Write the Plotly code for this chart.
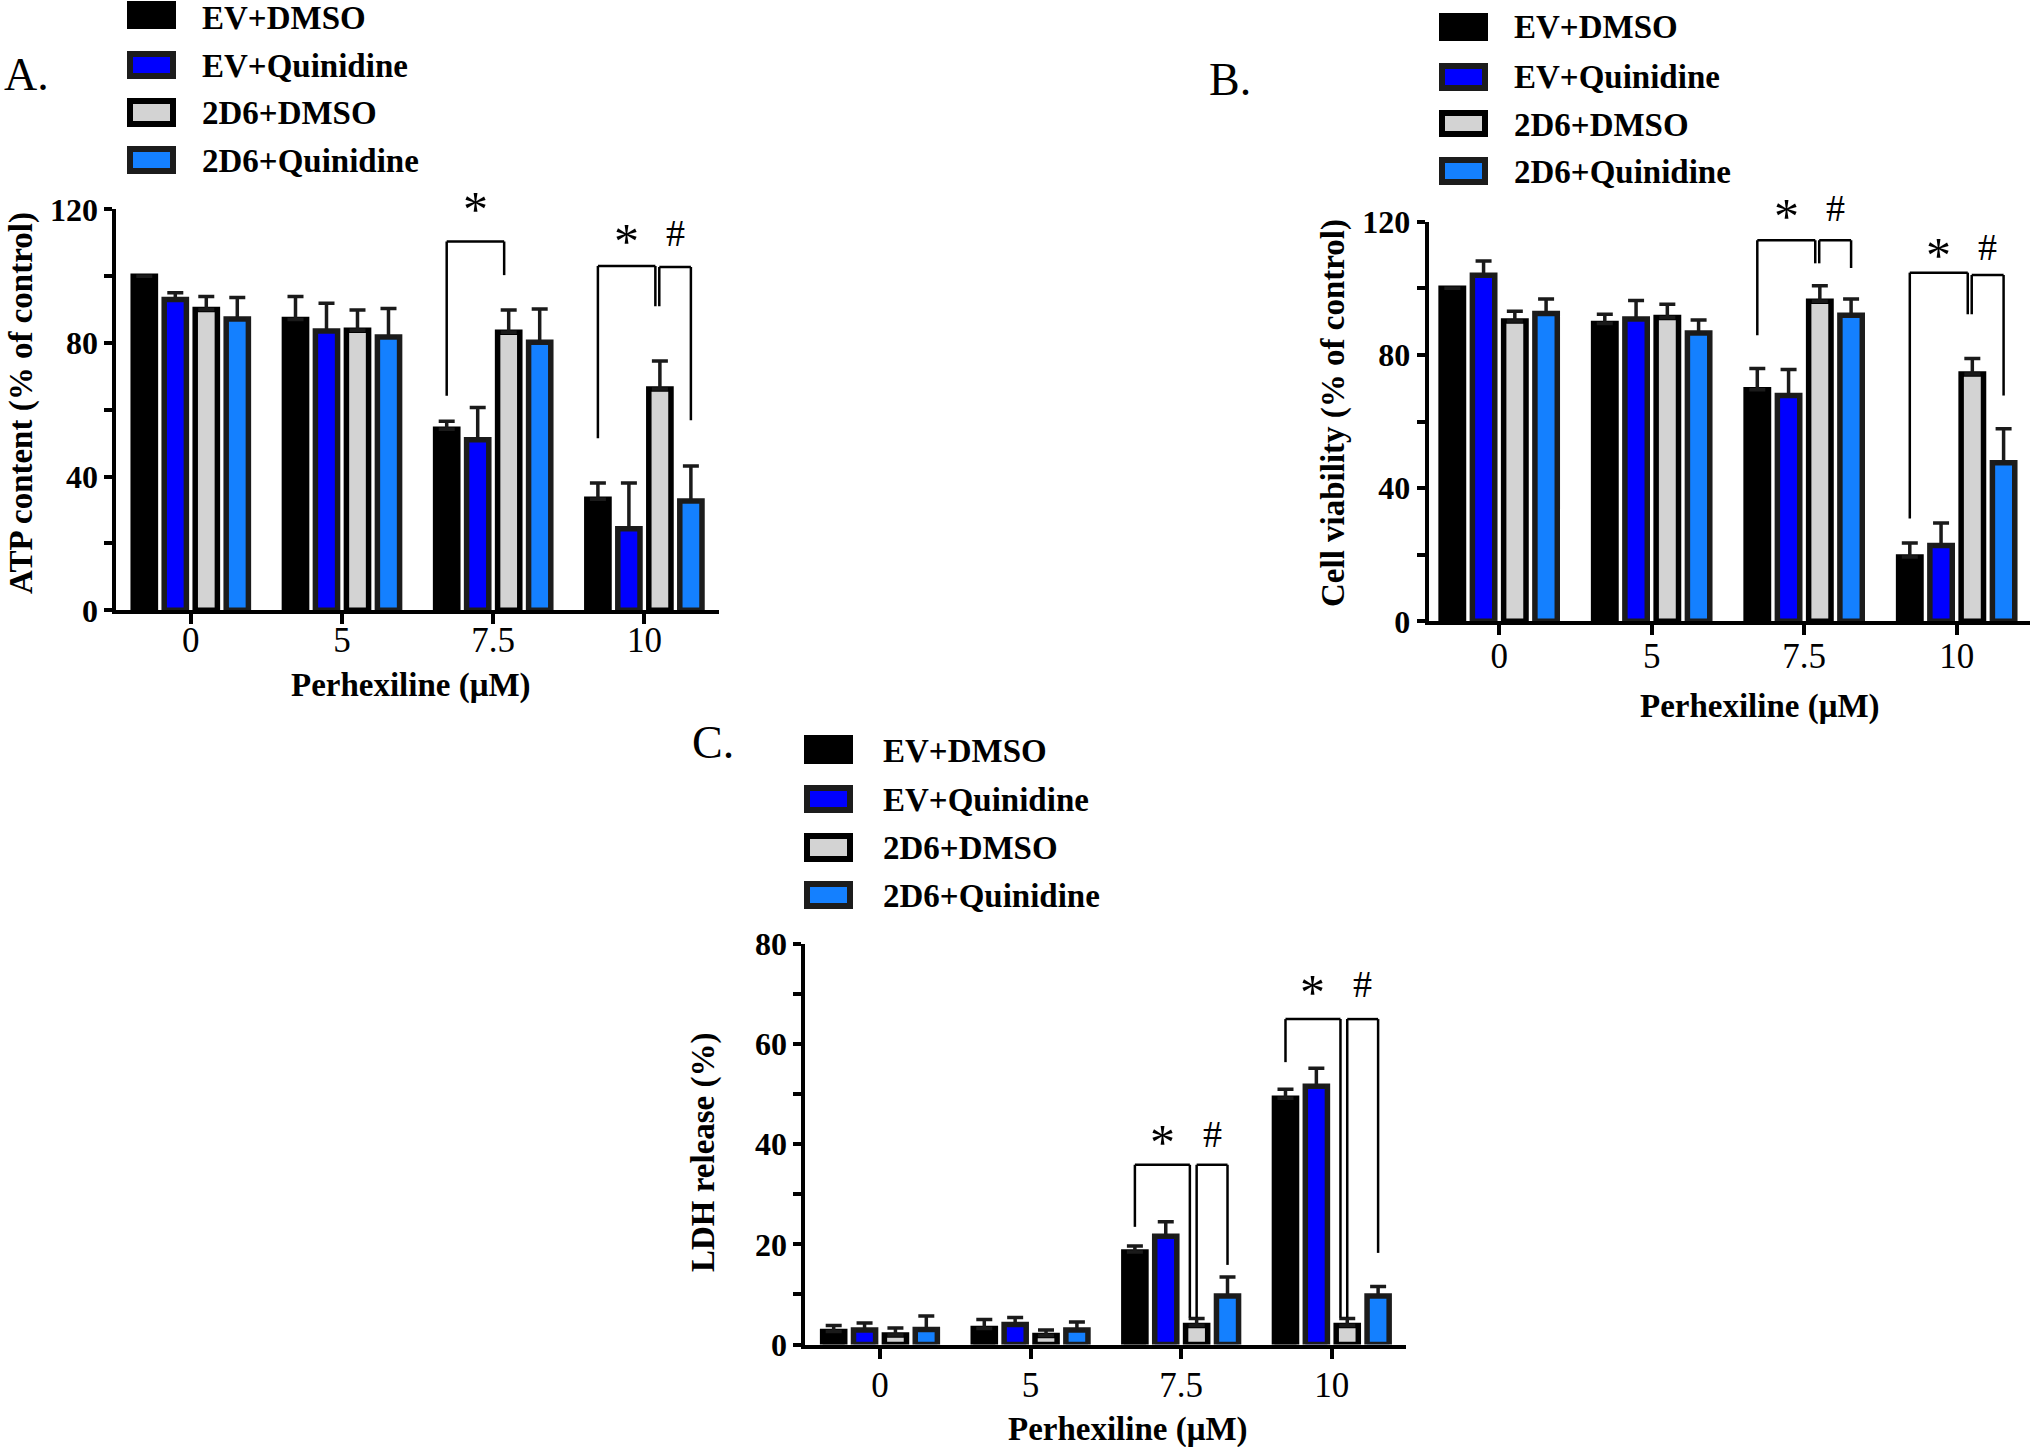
import plotly.graph_objects as go

W, H = 2032, 1447
SERIF = "Liberation Serif, Times New Roman, serif"

# ---------------- data ----------------
doses = ["0", "5", "7.5", "10"]
groups = ["EV+DMSO", "EV+Quinidine", "2D6+DMSO", "2D6+Quinidine"]

# Panel A: ATP content (% of control)
atp_ev_dmso = [100.0, 87.0, 54.2, 33.2]
atp_ev_quin = [93.0, 83.6, 51.0, 24.4]
atp_2d6_dmso = [90.0, 83.8, 83.2, 66.2]
atp_2d6_quin = [87.2, 81.8, 80.2, 32.7]
atp_ev_dmso_sd = [0.0, 6.9, 2.4, 4.9]
atp_ev_quin_sd = [2.0, 8.3, 9.7, 13.7]
atp_2d6_dmso_sd = [3.9, 6.1, 6.7, 8.4]
atp_2d6_quin_sd = [6.4, 8.5, 10.0, 10.5]

# Panel B: Cell viability (% of control)
via_ev_dmso = [100.0, 89.4, 69.5, 19.3]
via_ev_quin = [103.9, 90.8, 67.8, 22.8]
via_2d6_dmso = [90.2, 91.2, 96.1, 74.3]
via_2d6_quin = [92.4, 86.6, 91.9, 47.6]
via_ev_dmso_sd = [0.0, 2.8, 6.4, 4.2]
via_ev_quin_sd = [4.3, 5.5, 7.8, 6.7]
via_2d6_dmso_sd = [2.9, 4.0, 4.7, 4.6]
via_2d6_quin_sd = [4.4, 3.9, 4.9, 10.2]

# Panel C: LDH release (%)
ldh_ev_dmso = [2.6, 3.2, 18.5, 49.2]
ldh_ev_quin = [2.9, 4.0, 21.6, 51.6]
ldh_2d6_dmso = [1.9, 1.8, 3.8, 3.8]
ldh_2d6_quin = [3.0, 2.9, 9.7, 9.7]
ldh_ev_dmso_sd = [1.2, 1.8, 1.2, 1.8]
ldh_ev_quin_sd = [1.4, 1.4, 2.9, 3.6]
ldh_2d6_dmso_sd = [1.4, 1.1, 1.4, 1.4]
ldh_2d6_quin_sd = [2.7, 1.6, 3.8, 1.9]

# y tick values / labels
atp_ticks = [0, 20, 40, 60, 80, 100, 120]
atp_ticktext = ["0", "", "40", "", "80", "", "120"]
via_ticks = [0, 20, 40, 60, 80, 100, 120]
via_ticktext = ["0", "", "40", "", "80", "", "120"]
ldh_ticks = [0, 10, 20, 30, 40, 50, 60, 70, 80]
ldh_ticktext = ["0", "", "20", "", "40", "", "60", "", "80"]

# significance brackets: (dose index, bar from, bar to, top, left leg bottom, right leg bottom)
sig_brackets_A = [(2, 0, 2, 110.4, 64.2, 100.3), (3, 0, 2, 103.0, 51.5, 91.0), (3, 2, 3, 102.7, 91.0, 56.9)]
sig_labels_A = ["*", "*", "#"]
sig_label_y_A = [122.4, 113.0, 113.0]
sig_brackets_B = [(2, 0, 2, 114.4, 85.9, 107.5), (2, 2, 3, 114.4, 107.5, 106.1),
                  (3, 0, 2, 104.7, 30.9, 92.2), (3, 2, 3, 104.0, 92.2, 67.8)]
sig_labels_B = ["*", "#", "*", "#"]
sig_label_y_B = [124.2, 124.2, 112.3, 112.3]
sig_brackets_C = [(2, 0, 2, 35.9, 23.5, 5.4), (2, 2, 3, 35.9, 5.4, 15.9),
                  (3, 0, 2, 65.0, 56.4, 5.4), (3, 2, 3, 65.0, 5.4, 18.3)]
sig_labels_C = ["*", "#", "*", "#"]
sig_label_y_C = [42.1, 42.1, 72.1, 72.1]

# ---------------- styles ----------------
fill_colors = ["#000000", "#0000FF", "#D3D3D3", "#1480FF"]
edge_colors = ["#000000", "#1C1C1C", "#000000", "#1C1C1C"]
BARGAP = 0.18
BARGROUPGAP = 0.284
PITCH = (1 - BARGAP) / 4


def px_x(p):
    return p / W


def px_y(p):
    return 1 - p / H


def bar_x(gi, bi, off=0.0):
    return gi - (1 - BARGAP) / 2 + (bi + 0.5) * PITCH + off


panels = [
    dict(name="A", xa="x", ya="y",
         means=[atp_ev_dmso, atp_ev_quin, atp_2d6_dmso, atp_2d6_quin],
         sds=[atp_ev_dmso_sd, atp_ev_quin_sd, atp_2d6_dmso_sd, atp_2d6_quin_sd],
         ymax=120, ticks=atp_ticks, ticktext=atp_ticktext,
         xdom=(116.3, 719.3), ydom=(209.3, 610.3), xrange=[-0.4927, 3.4954],
         brackets=sig_brackets_A, labels=sig_labels_A, label_y=sig_label_y_A,
         split=(-0.03, -0.004), standoff=-14,
         ytitle="ATP content (% of control)", ytitle_pos=(22, 403),
         xtitle_pos=(411, 686), letter_pos=(2, 75),
         leg_x=(127, 176), leg_rows=[(1, 29), (51, 79), (98, 127), (146, 174)],
         leg_text_x=200, leg_text_y=[18.5, 65.5, 113.5, 161.5]),
    dict(name="B", xa="x2", ya="y2",
         means=[via_ev_dmso, via_ev_quin, via_2d6_dmso, via_2d6_quin],
         sds=[via_ev_dmso_sd, via_ev_quin_sd, via_2d6_dmso_sd, via_2d6_quin_sd],
         ymax=120, ticks=via_ticks, ticktext=via_ticktext,
         xdom=(1428.7, 2030), ydom=(221.7, 621.3), xrange=[-0.4623, 3.4807],
         brackets=sig_brackets_B, labels=sig_labels_B, label_y=sig_label_y_B,
         split=(-0.03, -0.004), standoff=-9,
         ytitle="Cell viability (% of control)", ytitle_pos=(1333, 413),
         xtitle_pos=(1760, 706), letter_pos=(1207, 79),
         leg_x=(1439, 1488), leg_rows=[(13, 41), (63, 91), (110, 137), (157, 185)],
         leg_text_x=1512, leg_text_y=[27, 77, 125, 172]),
    dict(name="C", xa="x3", ya="y3",
         means=[ldh_ev_dmso, ldh_ev_quin, ldh_2d6_dmso, ldh_2d6_quin],
         sds=[ldh_ev_dmso_sd, ldh_ev_quin_sd, ldh_2d6_dmso_sd, ldh_2d6_quin_sd],
         ymax=80, ticks=ldh_ticks, ticktext=ldh_ticktext,
         xdom=(805.3, 1406), ydom=(944, 1344.5), xrange=[-0.496, 3.4927],
         brackets=sig_brackets_C, labels=sig_labels_C, label_y=sig_label_y_C,
         split=(-0.045, 0.0), standoff=-4,
         ytitle="LDH release (%)", ytitle_pos=(703, 1152),
         xtitle_pos=(1128, 1429), letter_pos=(690, 743),
         leg_x=(804, 853), leg_rows=[(735, 764), (785, 813), (833, 862), (881, 909)],
         leg_text_x=881, leg_text_y=[751, 800, 848, 896]),
]

fig = go.Figure()
shapes = []
annotations = []
layout_axes = {}

for p in panels:
    for i in range(4):
        fig.add_trace(go.Bar(
            x=doses, y=p["means"][i], name=groups[i],
            xaxis=p["xa"], yaxis=p["ya"], showlegend=False,
            marker=dict(color=fill_colors[i], line=dict(color=edge_colors[i], width=5.5)),
            error_y=dict(type="data", symmetric=False, array=p["sds"][i],
                         arrayminus=[0] * len(doses), color="#1A1A1A", thickness=3.5, width=8),
        ))

    xkey = "xaxis" + p["xa"][1:]
    ykey = "yaxis" + p["ya"][1:]
    layout_axes[xkey] = dict(
        domain=[px_x(p["xdom"][0]), px_x(p["xdom"][1])], anchor=p["ya"],
        type="category", categoryorder="array", categoryarray=doses,
        range=p["xrange"], showline=True, linewidth=4, linecolor="black",
        ticks="outside", ticklen=10, tickwidth=4, tickcolor="black",
        ticklabelstandoff=p["standoff"], automargin=False,
        showgrid=False, zeroline=False, fixedrange=True,
        tickfont=dict(family=SERIF, size=35, color="black"))
    layout_axes[ykey] = dict(
        domain=[px_y(p["ydom"][1]), px_y(p["ydom"][0])], anchor=p["xa"],
        range=[0, p["ymax"]], tickmode="array", tickvals=p["ticks"], ticktext=p["ticktext"],
        showline=True, linewidth=4, linecolor="black", automargin=False,
        ticks="outside", ticklen=8, tickwidth=4, tickcolor="black",
        showgrid=False, zeroline=False, fixedrange=True,
        tickfont=dict(family=SERIF, size=32, color="black", weight="bold"))

    # significance brackets
    for (gi, b0, b1, top, lb, rb), lab, ly in zip(p["brackets"], p["labels"], p["label_y"]):
        off0 = p["split"][1] if b0 == 2 else 0.0
        off1 = p["split"][0] if b1 == 2 else 0.0
        xl = bar_x(gi, b0, off0)
        xr = bar_x(gi, b1, off1)
        for (x0, y0, x1, y1) in [(xl, lb, xl, top), (xl, top, xr, top), (xr, top, xr, rb)]:
            shapes.append(dict(type="line", xref=p["xa"], yref=p["ya"],
                               x0=x0, y0=y0, x1=x1, y1=y1,
                               line=dict(color="black", width=2.5)))
        is_star = lab == "*"
        annotations.append(dict(
            text=lab, xref=p["xa"], yref=p["ya"] + " domain",
            x=(xl + xr) / 2, y=ly / p["ymax"], showarrow=False,
            xanchor="center", yanchor="middle", yshift=-8 if is_star else 0,
            font=dict(family=SERIF, size=50 if is_star else 38, color="black")))

    # axis titles
    annotations.append(dict(
        text=p["ytitle"], xref="paper", yref="paper",
        x=px_x(p["ytitle_pos"][0]), y=px_y(p["ytitle_pos"][1]), textangle=-90,
        showarrow=False, xanchor="center", yanchor="middle",
        font=dict(family=SERIF, size=33, color="black", weight="bold")))
    annotations.append(dict(
        text="Perhexiline (\u03bcM)", xref="paper", yref="paper",
        x=px_x(p["xtitle_pos"][0]), y=px_y(p["xtitle_pos"][1]),
        showarrow=False, xanchor="center", yanchor="middle",
        font=dict(family=SERIF, size=33, color="black", weight="bold")))
    # panel letter
    annotations.append(dict(
        text=p["name"] + ".", xref="paper", yref="paper",
        x=px_x(p["letter_pos"][0]), y=px_y(p["letter_pos"][1]),
        showarrow=False, xanchor="left", yanchor="middle",
        font=dict(family=SERIF, size=46, color="black")))

    # legend
    lx0, lx1 = p["leg_x"]
    for i, (r0, r1) in enumerate(p["leg_rows"]):
        shapes.append(dict(type="rect", xref="paper", yref="paper",
                           x0=px_x(lx0 + 3), x1=px_x(lx1 - 3),
                           y0=px_y(r1 - 3), y1=px_y(r0 + 3),
                           fillcolor=fill_colors[i],
                           line=dict(color=edge_colors[i], width=6)))
        annotations.append(dict(
            text=groups[i], xref="paper", yref="paper",
            x=px_x(p["leg_text_x"]), y=px_y(p["leg_text_y"][i]),
            showarrow=False, xanchor="left", yanchor="middle",
            font=dict(family=SERIF, size=33, color="black", weight="bold")))

fig.update_layout(
    width=W, height=H, margin=dict(l=0, r=0, t=0, b=0, pad=0, autoexpand=False),
    paper_bgcolor="white", plot_bgcolor="white",
    barmode="group", bargap=BARGAP, bargroupgap=BARGROUPGAP,
    showlegend=False, shapes=shapes, annotations=annotations,
    **layout_axes,
)

fig.write_html(
    "out.html",
    config={"displayModeBar": False, "staticPlot": True},
    post_script="document.body.style.margin='0';document.body.style.overflow='hidden';",
)
